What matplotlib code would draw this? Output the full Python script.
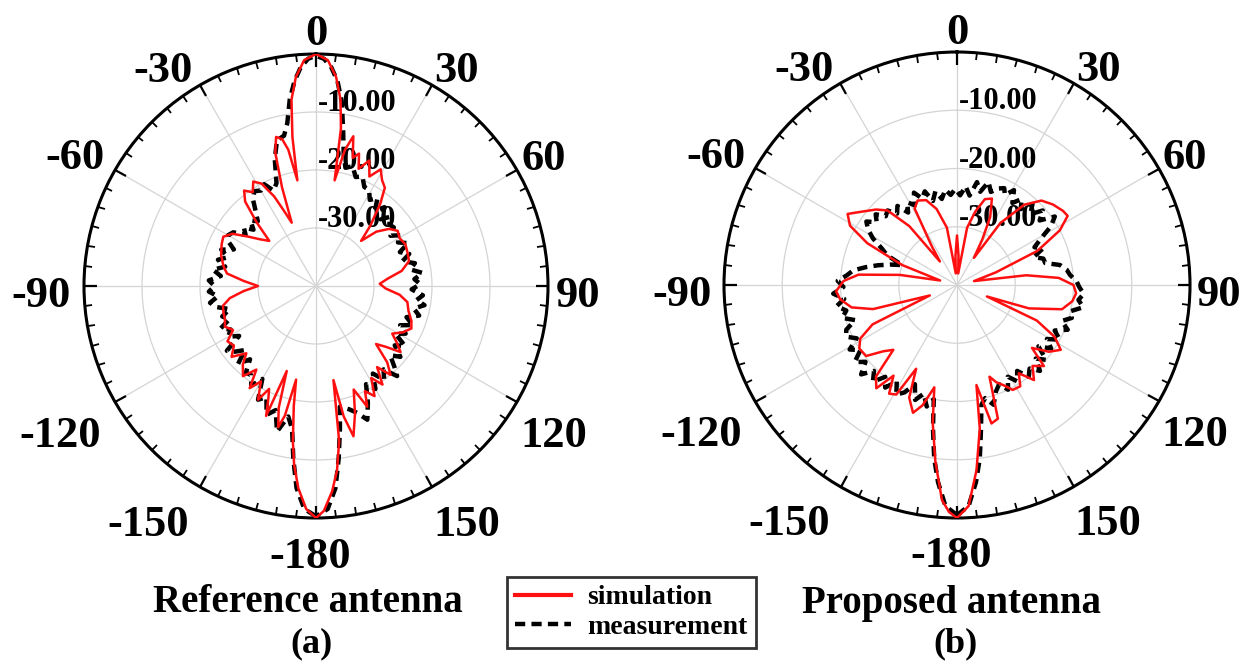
import matplotlib
matplotlib.use("Agg")
import matplotlib.pyplot as plt
import numpy as np

plt.rcParams['font.family'] = ['Liberation Serif', 'DejaVu Serif']
plt.rcParams['font.weight'] = 'bold'

# ---- (a) reference antenna, angle (deg) / gain (dB) ----
ref_sim_ang = [-180, -177.5, -175, -173, -171.5, -169.5, -168, -166.5, -165, -163, -161, -159, -157,
               -155.5, -153, -150, -147, -144.5, -141, -137, -134, -130, -126, -122, -118, -114,
               -110, -106, -102, -98, -94, -90, -86, -82, -78, -72, -66, -62, -58, -54, -50, -46,
               -43, -40, -37, -34, -31, -28, -25, -23, -21, -19, -17, -15, -13, -11.5, -10, -9,
               -7.5, -5.5, -3, 0, 3, 5.5, 7.5, 9, 10, 12, 14, 16, 18, 20, 23, 26, 29, 32, 35, 38,
               42, 45, 48, 52, 56, 60, 65, 70, 75, 80, 84, 88, 92, 96, 100, 105, 110, 114, 118,
               122, 125, 128, 131, 134, 137, 140, 143, 146, 149, 152, 155, 157, 160, 163, 166,
               168, 169.5, 171.5, 173.5, 175.5, 178, 180]
ref_sim_db = [0, -1.5, -5, -9, -13, -19, -23.5, -17, -14.8, -18, -24.5, -16, -19,
              -20.5, -18, -21, -19, -22.3, -20, -21.5, -23.3, -21, -22.5, -22, -23.8, -22.8,
              -23.3, -23.4, -23.6, -25, -27.5, -30, -27.5, -24.5, -23.7, -22.8, -22.2, -21.9, -23, -25.5, -27.5, -28.8,
              -25, -21, -19.4, -20.5, -19, -20, -23, -26, -28.3, -22, -16, -13.4, -14, -16, -21.5, -14,
              -7.6, -3.8, -1, 0, -1, -3.8, -7.6, -12.5, -21.5, -16, -13.4, -17, -16, -18.5, -16.5, -19, -17, -18.5, -19.3, -22,
              -26, -29, -26, -24, -23, -23.4, -23, -23.2, -23.4, -25, -27.5, -29, -28, -25.5, -24, -23.5, -22.5, -22, -23,
              -24.5, -23, -21.5, -24, -25.6, -22, -20, -22.5, -19.5, -21.5, -18.5, -20, -17.4, -21, -17, -13.3,
              -17, -23.5, -13, -8, -4.5, -1.2, 0]

ref_meas_ang = [-180, -177, -174.5, -172.5, -170.5, -168, -165, -162, -159, -156, -153, -150, -147,
                -144, -141, -138, -135, -132, -129, -126, -123, -120, -117, -114, -111, -108, -105,
                -102, -99, -96, -93, -90, -87, -84, -81, -78, -75, -72, -69, -66, -63, -60, -57,
                -54, -51, -48, -45, -42, -39, -36, -33, -30, -27, -24, -21, -18, -15, -12, -10,
                -8, -6, -4, -2, 0, 2, 4, 6, 8, 10, 12, 14, 17, 20, 23, 26, 29, 32, 35, 38, 41, 44,
                47, 50, 53, 56, 59, 62, 65, 68, 71, 74, 77, 80, 83, 86, 89, 92, 95, 98, 100, 103,
                106, 109, 112, 115, 118, 121, 124, 127, 130, 133, 136, 138, 141, 144, 147, 150,
                153, 156, 159, 162, 165, 168.8, 170.5, 172.5, 174.5, 177, 180]
ref_meas_db = [-0.3, -1.5, -5, -10, -15, -17, -14, -17.5, -16.2, -19, -18, -21.5, -19.5,
               -21, -20.8, -23, -21, -23.5, -22, -21, -24.2, -22.5, -23.5, -22, -24, -23, -24.6,
               -22.5, -21.5, -23, -21.5, -22.5, -21.5, -23.5, -22, -24, -22.5, -24, -22.5, -24.5, -23, -22.5, -23,
               -25, -24, -25.5, -24, -25, -23.5, -21.5, -20.5, -21, -20.3, -22, -21, -17, -14, -13.5, -11.5,
               -7.5, -4.5, -2.2, -0.8, -0.3, -0.8, -2.2, -4.5, -8, -13, -17, -19, -18.4, -20, -19.5, -21, -21.1, -22.5, -21.5, -23.5, -22, -24,
               -22.5, -23.5, -23.2, -24.5, -23, -24, -22.5, -24.4, -23, -24.5, -22.5, -23.5, -21.5, -23, -22, -23.5, -21.5, -22.5, -21, -22.7,
               -21.5, -23.5, -22, -24, -22.5, -24, -21.5, -23, -21, -22.5, -20.5, -19.1, -21.5, -20, -22, -19.5,
               -21, -18, -15.3, -17, -18, -18.8, -15, -10, -5, -1.5, -0.3]

# ---- (b) proposed antenna ----
prop_sim_ang = [-180, -178, -176, -173, -170, -167.5, -164, -161, -157, -154, -151, -148, -145,
                -142, -138.5, -135.5, -132, -128, -123, -119, -115, -111, -106, -102, -97, -93,
                -88, -84, -80, -75, -70, -65, -61, -57, -52, -47, -43, -39, -36, -33, -29, -25,
                -20, -15, -10, -6, -3, 0, 3, 6, 10, 14, 18, 22, 26, 29, 32, 35, 40, 45, 50, 55,
                58, 62, 67, 72, 77, 82, 86, 90, 94, 98, 103, 108, 111, 114, 118, 122, 126, 130,
                133, 137, 141, 145, 148, 152, 155, 158, 160.5, 163, 166, 169, 171, 174, 177, 180]
prop_sim_db = [0, -1, -3, -9.5, -16, -22, -18.5, -16.8, -19, -24, -18.5, -18, -21,
               -17.5, -19, -24.4, -23, -20.2, -20, -21, -24, -35, -25, -21.5, -19.8, -19.2,
               -20.5, -23, -30, -37, -30, -23, -19, -17.6, -19.5, -21, -22.5, -27, -35, -32, -25, -24,
               -24.5, -26.5, -30, -38, -35, -31.5, -35, -38, -30, -27, -24.5, -24, -27, -31, -34.5, -27, -22, -19.5, -18.5, -17.8,
               -17.6, -20, -25, -33, -37, -28, -22.5, -20, -19.5, -20, -21.5, -27, -34.5, -25, -21, -19, -20.5, -23.2,
               -19.6, -21, -19, -21.5, -19.5, -19.6, -21, -22, -23.3, -16, -15.5, -22.5, -15, -8, -2, 0]

prop_meas_ang = [-180, -177, -174.5, -172.5, -170.5, -168.5, -166, -163, -160, -157, -154, -151, -148,
                 -145, -142, -139, -136, -133, -130, -127, -124, -121, -118, -115, -112, -109, -106,
                 -103, -100, -97, -94, -91, -88, -85, -82, -79, -76, -73, -70, -67, -64, -61, -58,
                 -55, -52, -49, -46, -43, -40, -37, -34, -31, -28, -25, -22, -19, -16, -13, -10,
                 -7, -4, -1, 2, 5, 8, 11, 14, 17, 20, 23, 26, 28, 31, 34, 37, 40, 43, 46, 49, 52,
                 55, 58, 61, 64, 67, 70, 73, 76, 79, 82, 85, 88, 91, 94, 97, 100, 103, 106, 109,
                 112, 115, 118, 121, 124, 127, 130, 133, 136, 139, 142, 145, 148, 151, 154, 157,
                 160, 163, 166, 168.5, 170.5, 172.5, 174.5, 177, 180]
prop_meas_db = [-0.5, -2, -6, -10, -15, -20, -18.5, -20.5, -19, -21.5, -19.5, -18.5, -20.5,
                -18.5, -20, -18, -19.5, -17.5, -19.5, -18, -20, -18.5, -20.5, -19, -19.5, -21.5, -19.5,
                -20.5, -19, -20.5, -18.7, -20.5, -19.5, -21, -22, -24, -26, -28, -30, -27, -25.6, -23.5, -22,
                -21, -22.5, -21.5, -23, -22.5, -24, -23, -25, -23.4, -24.5, -22.5, -24, -23, -25, -23.5, -25,
                -23.5, -24.5, -23.5, -24.6, -23, -24.5, -22, -23.5, -21.5, -23, -22, -21.5, -22.5, -21, -23, -21.5, -23, -21, -22.5, -20.5, -22,
                -19.5, -21, -23.5, -25.2, -24, -26, -24.5, -24.4, -22, -21, -20.5, -19.5, -19, -18.2, -19, -18, -20, -19.5, -21,
                -19.5, -21.5, -20, -22, -20.5, -22.5, -20, -21.5, -19.5, -21, -20, -22, -20.5, -22, -20, -21.5,
                -20.5, -18.5, -20, -19, -15, -10, -6, -2, -0.5]

theta_ticks = [0, 30, 60, 90, 120, 150, 180, 210, 240, 270, 300, 330]
theta_labels = ['0', '30', '60', '90', '120', '150', '-180', '-150', '-120', '-90', '-60', '-30']
r_ticks = [-30, -20, -10]
r_labels = ['-30.00', '-20.00', '-10.00']

# label centres relative to the pole, in pixels (x right, y up), as laid out in the figure
label_offsets = [(0, 256), (141, 219), (228, 131), (262, -6), (238, -146), (151, -235),
                 (-6, -267), (-168, -235), (-256, -146), (-275, -6), (-241, 132), (-153, 219)]


def polar_panel(ax, sim_ang, sim_db, meas_ang, meas_db):
    ax.set_theta_zero_location('N')
    ax.set_theta_direction(-1)
    ax.set_ylim(-40, 0)
    ax.set_yticks(r_ticks)
    ax.set_yticklabels([])
    ax.set_xticks(np.deg2rad(theta_ticks))
    ax.set_xticklabels([])
    ax.set_xticks(np.deg2rad(np.arange(0, 360, 5)), minor=True)
    ax.tick_params(axis='x', which='both', tick1On=False, tick2On=True)
    ax.tick_params(axis='x', which='major', direction='in', length=9, width=1.6)
    ax.tick_params(axis='x', which='minor', direction='in', length=5, width=1.3)
    ax.tick_params(axis='y', length=0)
    ax.grid(True, color='#d4d4d4', lw=0.9)
    ax.spines['polar'].set_linewidth(2.2)
    for lab, (dx, dy) in zip(theta_labels, label_offsets):
        ax.annotate(lab, xy=(0, -40), xytext=(dx, dy - 15), textcoords='offset pixels',
                    ha='center', va='baseline', fontsize=32, fontweight='bold',
                    annotation_clip=False)
    for rv, lab in zip(r_ticks, r_labels):
        ax.annotate(lab, xy=(0, rv), xytext=(1, 6), textcoords='offset points',
                    ha='left', va='center', fontsize=22, fontweight='bold')
    ax.plot(np.deg2rad(meas_ang), meas_db, color='black', lw=3.2,
            linestyle=(0, (2.3, 1.4)), label='measurement', zorder=3)
    ax.plot(np.deg2rad(sim_ang), sim_db, color='#ff1010', lw=1.8,
            label='simulation', zorder=4)


fig = plt.figure(figsize=(12.52, 6.63), dpi=100)
W, H = 1252, 663
ax1 = fig.add_axes([(316 - 232) / W, (H - 286 - 232) / H, 464 / W, 464 / H], projection='polar')
ax2 = fig.add_axes([(957 - 233) / W, (H - 285 - 233) / H, 466 / W, 466 / H], projection='polar')

polar_panel(ax1, ref_sim_ang, ref_sim_db, ref_meas_ang, ref_meas_db)
polar_panel(ax2, prop_sim_ang, prop_sim_db, prop_meas_ang, prop_meas_db)

fig.text(308 / W, 1 - 603 / H, 'Reference antenna', ha='center', va='center', fontsize=28)
fig.text(312 / W, 1 - 644 / H, '(a)', ha='center', va='center', fontsize=26)
fig.text(951 / W, 1 - 603 / H, 'Proposed antenna', ha='center', va='center', fontsize=28)
fig.text(955 / W, 1 - 644 / H, '(b)', ha='center', va='center', fontsize=26)

h, l = ax1.get_legend_handles_labels()
leg = fig.legend([h[1], h[0]], [l[1], l[0]], loc='center',
                 bbox_to_anchor=(631.5 / W, 1 - 612.5 / H), fontsize=20,
                 frameon=True, fancybox=False, handlelength=2.0, handletextpad=0.6,
                 borderpad=0.3, labelspacing=0.15, borderaxespad=0)
leg.get_frame().set_edgecolor('black')
leg.get_frame().set_linewidth(2)
leg.legend_handles[0].set_linewidth(3)

fig.savefig('out.png', dpi=100)
